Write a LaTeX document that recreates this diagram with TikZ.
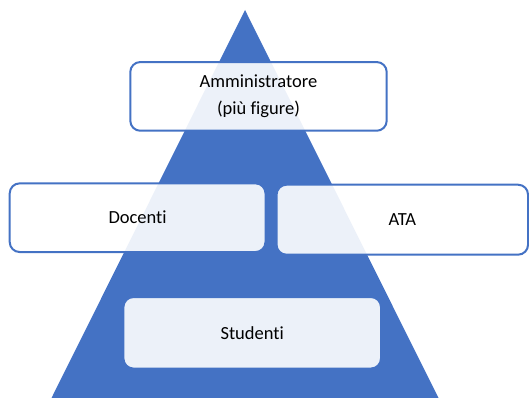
\documentclass[tikz,border=0pt]{standalone}
\usepackage{fontspec}
\setmainfont{Carlito}[Ligatures={NoCommon}]
\definecolor{tblue}{HTML}{4472C4}
\begin{document}
\begin{tikzpicture}[x=1pt,y=-1pt]
\tikzset{
  box/.style={draw=tblue, line width=2pt, rounded corners=10pt,
    fill=white, fill opacity=0.9, text opacity=1, draw opacity=1,
    inner sep=0pt, align=center, text=black,
    font=\fontsize{18.5}{27.5}\selectfont},
  pyr/.style={fill=tblue}
}
\useasboundingbox (0,0) rectangle (529,398);
\fill[pyr] (245,10) -- (438.5,398) -- (51.5,398) -- cycle;
\node[box, minimum width=256.4pt, minimum height=68.7pt] (admin) at (258.5,96.4) {Amministratore\\(più figure)};
\node[box, minimum width=255.8pt, minimum height=68.7pt] (docenti) at (137.6,217.7) {Docenti};
\node[box, minimum width=251.5pt, minimum height=70pt] (ata) at (402.3,219.7) {ATA};
\node[box, minimum width=257.6pt, minimum height=71.5pt] (studenti) at (252.2,332.8) {Studenti};
\end{tikzpicture}
\end{document}
